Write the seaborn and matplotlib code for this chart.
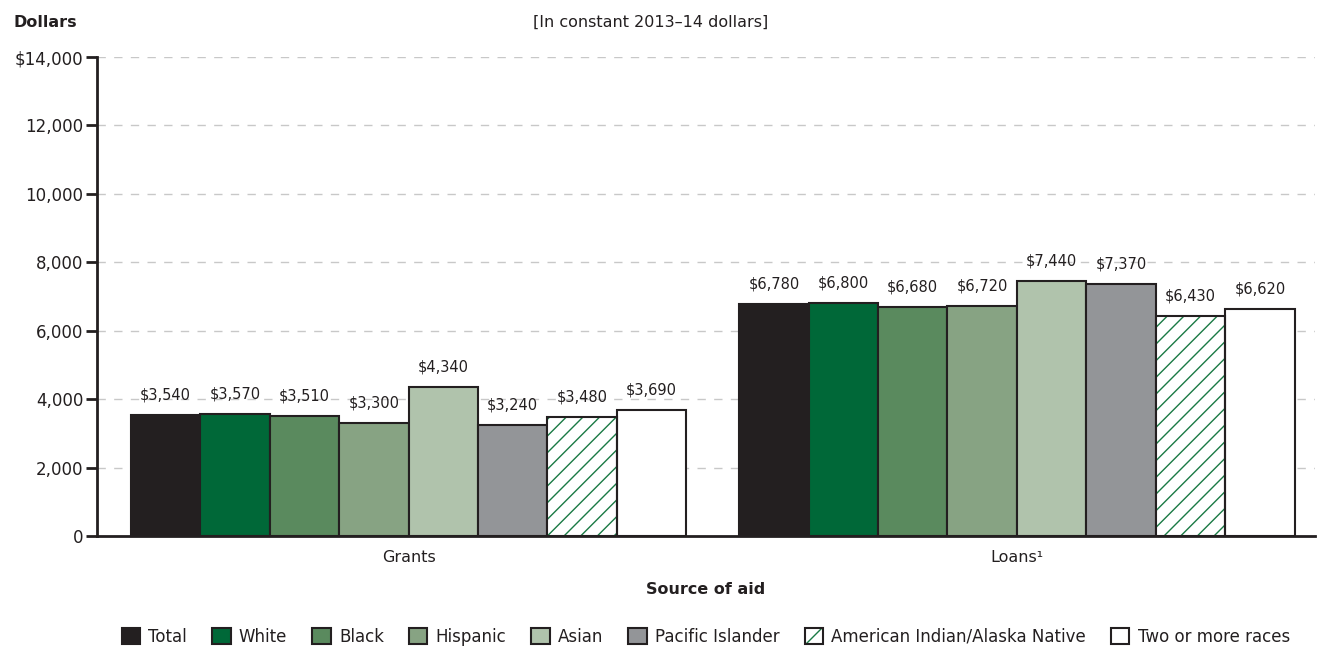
import matplotlib
matplotlib.use("Agg")
import matplotlib.pyplot as plt
import seaborn as sns
import pandas as pd
from matplotlib.patches import Rectangle, Patch

sources = ["Grants", "Loans\u00b9"]
groups = ["Total", "White", "Black", "Hispanic", "Asian", "Pacific Islander",
          "American Indian/Alaska Native", "Two or more races"]
grants = [3540, 3570, 3510, 3300, 4340, 3240, 3480, 3690]
loans = [6780, 6800, 6680, 6720, 7440, 7370, 6430, 6620]
yticks = [0, 2000, 4000, 6000, 8000, 10000, 12000, 14000]
ytick_labels = ["0", "2,000", "4,000", "6,000", "8,000", "10,000", "12,000", "$14,000"]

colors = ["#231f20", "#006838", "#5a8a5e", "#87a383", "#b0c3ac", "#939598",
          "#ffffff", "#ffffff"]
hatch_green = "#1a7a45"
edge = "#231f20"

rows = []
for s, vals in zip(sources, [grants, loans]):
    for g, v in zip(groups, vals):
        rows.append({"source": s, "group": g, "value": v})
df = pd.DataFrame(rows)

sns.set_theme(style="white")
plt.rcParams["font.family"] = ["DejaVu Sans"]
plt.rcParams["hatch.linewidth"] = 1.0

fig = plt.figure(figsize=(13.17, 6.51), dpi=100)
ax = fig.add_axes([0.0737, 0.1767, 0.9248, 0.7357])

sns.barplot(data=df, x="source", y="value", hue="group", hue_order=groups,
            order=sources, palette=colors, width=0.913, gap=0,
            edgecolor=edge, linewidth=1.5, legend=False, ax=ax, saturation=1)

# hatch for AIAN bars
aian_idx = groups.index("American Indian/Alaska Native")
cont = ax.containers[aian_idx]
for p in cont.patches:
    p.set_edgecolor(hatch_green)
    p.set_hatch("//")
    p.set_linewidth(0)
    ax.add_patch(Rectangle((p.get_x(), p.get_y()), p.get_width(), p.get_height(),
                           fill=False, edgecolor=edge, linewidth=1.5, zorder=p.get_zorder() + 0.1))

for i, c in enumerate(ax.containers):
    labels = ["$" + f"{v:,.0f}" for v in c.datavalues]
    ax.bar_label(c, labels=labels, padding=9, fontsize=10.5, color="#231f20")

ax.set_ylim(0, 14000)
ax.set_xlim(-0.512, 1.49)
ax.set_yticks(yticks)
ax.set_yticklabels(ytick_labels, fontsize=12, color="#231f20")
ax.tick_params(axis="y", direction="out", length=8, width=2, color=edge, pad=2, left=True)
ax.tick_params(axis="x", length=0, labelsize=11.5, labelcolor="#231f20", pad=10)
ax.yaxis.grid(True, linestyle=(0, (6, 6)), color="#c8c8c8", linewidth=1)
ax.set_axisbelow(True)
for s in ["top", "right"]:
    ax.spines[s].set_visible(False)
for s in ["left", "bottom"]:
    ax.spines[s].set_color(edge)
    ax.spines[s].set_linewidth(2)

ax.set_ylabel("")
ax.set_xlabel("Source of aid", fontsize=11.5, fontweight="bold", color="#231f20", labelpad=12)

fig.text(0.01, 0.965, "Dollars", fontsize=11.5, fontweight="bold", color="#231f20",
         ha="left", va="center")
fig.text(0.494, 0.965, "[In constant 2013\u201314 dollars]", fontsize=11.5, color="#231f20",
         ha="center", va="center")

handles = [Patch(facecolor=c, edgecolor=edge, linewidth=1.5) for c in colors]
handles[aian_idx] = (Patch(facecolor="white", edgecolor=hatch_green, hatch="//", linewidth=0),
                     Patch(facecolor="none", edgecolor=edge, linewidth=1.5))
leg = fig.legend(handles, groups, loc="center", bbox_to_anchor=(0.536, 0.022), ncol=8,
                 frameon=False, fontsize=12, handlelength=1.1, handleheight=1.1,
                 columnspacing=1.5, handletextpad=0.5)
for t in leg.get_texts():
    t.set_color("#231f20")

fig.savefig("out.png", dpi=100)
